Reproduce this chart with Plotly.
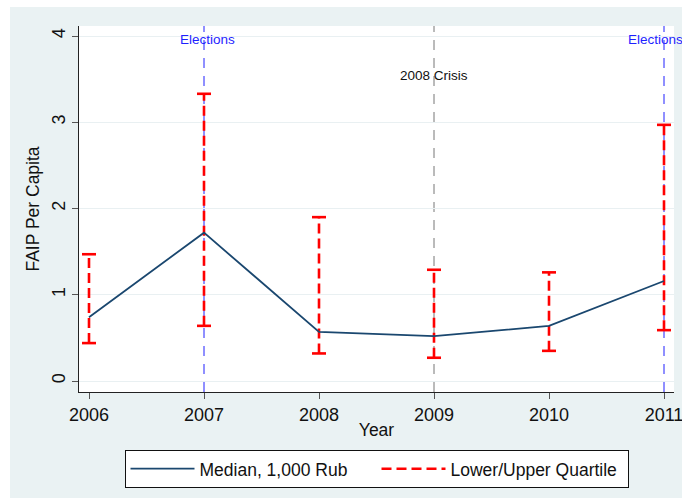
import plotly.graph_objects as go

years = [2006, 2007, 2008, 2009, 2010, 2011]
median = [0.74, 1.72, 0.57, 0.52, 0.64, 1.16]
lower_q = [0.44, 0.64, 0.32, 0.27, 0.35, 0.59]
upper_q = [1.47, 3.33, 1.90, 1.29, 1.26, 2.97]
x_ticks = [2006, 2007, 2008, 2009, 2010, 2011]
y_ticks = [0, 1, 2, 3, 4]
event_years = [2007, 2009, 2011]
event_labels = ["Elections", "2008 Crisis", "Elections"]

FONT = "Liberation Sans, Arial, sans-serif"
BG = "#eaf2f3"
RED = "#ff0000"
NAVY = "#1a476f"
event_styles = [dict(ly=3.965, tcol="#1f1fff", lcol="#2020ff", xs=3),
                dict(ly=3.54, tcol="#111111", lcol="#777777", xs=0),
                dict(ly=3.965, tcol="#1f1fff", lcol="#2020ff", xs=-9)]

fig = go.Figure()

# quartile range segments (dashed)
qx, qy = [], []
for yr, lo, hi in zip(years, lower_q, upper_q):
    qx += [yr, yr, None]
    qy += [lo, hi, None]
fig.add_trace(go.Scatter(x=qx, y=qy, mode="lines", showlegend=False,
                         line=dict(color=RED, width=2.6, dash="10px,5px"),
                         hoverinfo="skip"))
# caps
fig.add_trace(go.Scatter(x=years + years, y=lower_q + upper_q, mode="markers",
                         showlegend=False,
                         marker=dict(symbol="line-ew", size=10,
                                     line=dict(color=RED, width=2.6)),
                         hoverinfo="skip"))
# median
fig.add_trace(go.Scatter(x=years, y=median, mode="lines", name="Median, 1,000 Rub",
                         line=dict(color=NAVY, width=1.8)))
# legend entry for quartiles
fig.add_trace(go.Scatter(x=[None], y=[None], mode="lines", name="Lower/Upper Quartile",
                         line=dict(color=RED, width=2.6, dash="10px,5px")))

shapes = []
annotations = []
for xv, label, st in zip(event_years, event_labels, event_styles):
    shapes.append(dict(type="line", xref="x", yref="paper", x0=xv, x1=xv, y0=0, y1=1,
                       line=dict(color=st["lcol"], width=1, dash="10px,8px"), layer="below"))
    annotations.append(dict(x=xv, y=st["ly"], xref="x", yref="y", text=label,
                            showarrow=False, xshift=st["xs"],
                            font=dict(family=FONT, size=13.5, color=st["tcol"]),
                            xanchor="center", yanchor="middle"))

# white outer margin strips (left and top)
W, H = 682, 498
L, R, T, B = 79, 8, 26, 106
pw, ph = W - L - R, H - T - B
shapes.append(dict(type="rect", xref="paper", yref="paper",
                   x0=-L / pw, x1=(10 - L) / pw, y0=-B / ph, y1=(H - B) / ph,
                   fillcolor="white", line=dict(width=0), layer="below"))
shapes.append(dict(type="rect", xref="paper", yref="paper",
                   x0=-L / pw, x1=(W - L) / pw, y0=(H - B - 7) / ph, y1=(H - B) / ph,
                   fillcolor="white", line=dict(width=0), layer="below"))

fig.update_layout(
    width=W, height=H,
    margin=dict(l=L, r=R, t=T, b=B, autoexpand=False),
    paper_bgcolor=BG, plot_bgcolor="white",
    font=dict(family=FONT, size=17.5, color="#111111"),
    shapes=shapes, annotations=annotations,
    showlegend=True,
    legend=dict(orientation="h", x=0.5, xanchor="center", y=-0.158, yanchor="top",
                bgcolor="white", bordercolor="#111111", borderwidth=1,
                font=dict(family=FONT, size=17.5, color="#111111"),
                itemwidth=64, traceorder="normal",
                entrywidth=172, entrywidthmode="pixels"),
    xaxis=dict(range=[2005.913, 2011.087], tickmode="array", tickvals=x_ticks,
               ticktext=[str(v) for v in x_ticks], ticks="outside", ticklen=6,
               tickcolor="#555555", showline=True, linecolor="#222222", linewidth=1,
               showgrid=False, zeroline=False, ticklabeloverflow="allow",
               automargin=False,
               title=dict(text="Year", standoff=0, font=dict(size=17.5)),
               tickfont=dict(size=18)),
    yaxis=dict(range=[-0.127, 4.116], tickmode="array", tickvals=y_ticks,
               ticktext=[str(v) for v in y_ticks], ticks="outside", ticklen=6,
               tickcolor="#555555", showline=True, linecolor="#222222", linewidth=1,
               showgrid=True, gridcolor="#e9f0f2", gridwidth=1, zeroline=False,
               tickangle=-90, automargin=False,
               title=dict(text="FAIP Per Capita", standoff=4, font=dict(size=17.5)),
               tickfont=dict(size=18)),
)

fig.write_html("out.html")
